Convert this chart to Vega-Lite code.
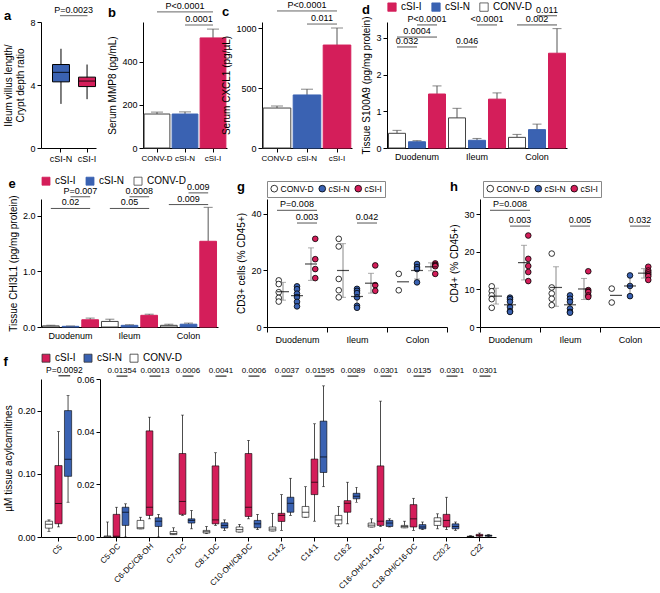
{
"$schema":"https://vega.github.io/schema/vega-lite/v6.json",
"padding":{"left":3,"top":0,"right":0,"bottom":0},
"background":"white",
"config":{
 "font":"Liberation Sans",
 "view":{"stroke":null},
 "axis":{"labelFontSize":9,"titleFontSize":10,"titleFontWeight":"normal","labelColor":"#000","titleColor":"#000","domainColor":"#000","tickColor":"#000","grid":false,"tickSize":4,"labelPadding":2,"titlePadding":4},
 "title":{"fontSize":13,"fontWeight":"bold","anchor":"start","frame":"bounds","offset":0,"color":"#000"},
 "legend":{"labelFontSize":9,"labelColor":"#000"},
 "text":{"fontSize":9}
},
"datasets":{
 "a":[{"grp":"cSI-N","lo":2.8,"q1":4.2,"med":4.8,"q3":5.3,"hi":6.3},{"grp":"cSI-I","lo":3.1,"q1":3.9,"med":4.25,"q3":4.5,"hi":5.3}],
 "a_br":[{"from":"cSI-N","to":"cSI-I","mid":"mid","y":8.4,"label":"P=0.0023"}],
 "b":[{"grp":"CONV-D","v":158,"err":167},{"grp":"cSI-N","v":158,"err":168},{"grp":"cSI-I","v":512,"err":553}],
 "b_br":[{"from":"CONV-D","to":"cSI-I","mid":"cSI-N","y":633,"label":"P<0.0001"},{"from":"cSI-N","to":"cSI-I","mid":"cSI-N|cSI-I","y":572,"label":"0.0001"}],
 "c":[{"grp":"CONV-D","v":333,"err":350},{"grp":"cSI-N","v":442,"err":490},{"grp":"cSI-I","v":858,"err":1000}],
 "c_br":[{"from":"CONV-D","to":"cSI-I","mid":"cSI-N","y":1142,"label":"P<0.0001"},{"from":"cSI-N","to":"cSI-I","mid":"cSI-N|cSI-I","y":1033,"label":"0.011"}],
 "d":[
  {"grp":"Duodenum","ser":"CONV-D","v":0.40,"err":0.48},
  {"grp":"Duodenum","ser":"cSI-N","v":0.17,"err":0.20},
  {"grp":"Duodenum","ser":"cSI-I","v":1.47,"err":1.69},
  {"grp":"Ileum","ser":"CONV-D","v":0.82,"err":1.08},
  {"grp":"Ileum","ser":"cSI-N","v":0.21,"err":0.26},
  {"grp":"Ileum","ser":"cSI-I","v":1.33,"err":1.50},
  {"grp":"Colon","ser":"CONV-D","v":0.29,"err":0.37},
  {"grp":"Colon","ser":"cSI-N","v":0.50,"err":0.65},
  {"grp":"Colon","ser":"cSI-I","v":2.58,"err":3.25}],
 "d_br":[
  {"cmp":"d1","grp":"Duodenum","from":"cSI-N","to":"cSI-I","mid":"cSI-N|cSI-I","y":3.35,"label":"P<0.0001"},
  {"cmp":"d2","grp":"Duodenum","from":"CONV-D","to":"cSI-I","mid":"cSI-N","y":3.02,"label":"0.0004"},
  {"cmp":"d3","grp":"Duodenum","from":"CONV-D","to":"cSI-N","mid":"CONV-D|cSI-N","y":2.75,"label":"0.032"},
  {"cmp":"d4","grp":"Ileum","from":"cSI-N","to":"cSI-I","mid":"cSI-N|cSI-I","y":3.35,"label":"<0.0001"},
  {"cmp":"d5","grp":"Ileum","from":"CONV-D","to":"cSI-N","mid":"CONV-D|cSI-N","y":2.75,"label":"0.046"},
  {"cmp":"d6","grp":"Colon","from":"cSI-N","to":"cSI-I","mid":"cSI-N|cSI-I","y":3.6,"label":"0.011"},
  {"cmp":"d7","grp":"Colon","from":"CONV-D","to":"cSI-I","mid":"cSI-N","y":3.35,"label":"0.002"}],
 "e":[
  {"grp":"Duodenum","ser":"CONV-D","v":0.02,"err":0.03},
  {"grp":"Duodenum","ser":"cSI-N","v":0.012,"err":0.018},
  {"grp":"Duodenum","ser":"cSI-I","v":0.13,"err":0.16},
  {"grp":"Ileum","ser":"CONV-D","v":0.10,"err":0.14},
  {"grp":"Ileum","ser":"cSI-N","v":0.03,"err":0.04},
  {"grp":"Ileum","ser":"cSI-I","v":0.21,"err":0.23},
  {"grp":"Colon","ser":"CONV-D","v":0.03,"err":0.05},
  {"grp":"Colon","ser":"cSI-N","v":0.05,"err":0.07},
  {"grp":"Colon","ser":"cSI-I","v":1.54,"err":2.15}],
 "e_br":[
  {"cmp":"e1","grp":"Duodenum","from":"cSI-N","to":"cSI-I","mid":"cSI-N|cSI-I","y":2.34,"label":"P=0.007"},
  {"cmp":"e2","grp":"Duodenum","from":"CONV-D","to":"cSI-I","mid":"cSI-N","y":2.13,"label":"0.02"},
  {"cmp":"e3","grp":"Ileum","from":"cSI-N","to":"cSI-I","mid":"cSI-N|cSI-I","y":2.34,"label":"0.0008"},
  {"cmp":"e4","grp":"Ileum","from":"CONV-D","to":"cSI-I","mid":"cSI-N","y":2.13,"label":"0.05"},
  {"cmp":"e5","grp":"Colon","from":"cSI-N","to":"cSI-I","mid":"cSI-N|cSI-I","y":2.41,"label":"0.009"},
  {"cmp":"e6","grp":"Colon","from":"CONV-D","to":"cSI-I","mid":"cSI-N","y":2.2,"label":"0.009"}],
 "g_pts":[
  {"grp":"Duodenum","ser":"CONV-D","v":16.5},{"grp":"Duodenum","ser":"CONV-D","v":15.2},{"grp":"Duodenum","ser":"CONV-D","v":12.3},{"grp":"Duodenum","ser":"CONV-D","v":10.3},{"grp":"Duodenum","ser":"CONV-D","v":9.0},
  {"grp":"Duodenum","ser":"cSI-N","v":14.4},{"grp":"Duodenum","ser":"cSI-N","v":13.4},{"grp":"Duodenum","ser":"cSI-N","v":11.8},{"grp":"Duodenum","ser":"cSI-N","v":10.6},{"grp":"Duodenum","ser":"cSI-N","v":8.9},{"grp":"Duodenum","ser":"cSI-N","v":7.3},
  {"grp":"Duodenum","ser":"cSI-I","v":31.2},{"grp":"Duodenum","ser":"cSI-I","v":24.0},{"grp":"Duodenum","ser":"cSI-I","v":20.5},{"grp":"Duodenum","ser":"cSI-I","v":17.3},
  {"grp":"Ileum","ser":"CONV-D","v":31.2},{"grp":"Ileum","ser":"CONV-D","v":28.5},{"grp":"Ileum","ser":"CONV-D","v":17.0},{"grp":"Ileum","ser":"CONV-D","v":13.0},{"grp":"Ileum","ser":"CONV-D","v":10.5},
  {"grp":"Ileum","ser":"cSI-N","v":13.5},{"grp":"Ileum","ser":"cSI-N","v":12.8},{"grp":"Ileum","ser":"cSI-N","v":12.0},{"grp":"Ileum","ser":"cSI-N","v":10.5},{"grp":"Ileum","ser":"cSI-N","v":7.5},{"grp":"Ileum","ser":"cSI-N","v":6.8},
  {"grp":"Ileum","ser":"cSI-I","v":21.8},{"grp":"Ileum","ser":"cSI-I","v":14.8},{"grp":"Ileum","ser":"cSI-I","v":12.8},
  {"grp":"Colon","ser":"CONV-D","v":18.8},{"grp":"Colon","ser":"CONV-D","v":13.0},
  {"grp":"Colon","ser":"cSI-N","v":22.3},{"grp":"Colon","ser":"cSI-N","v":21.2},{"grp":"Colon","ser":"cSI-N","v":20.5},{"grp":"Colon","ser":"cSI-N","v":15.8},
  {"grp":"Colon","ser":"cSI-I","v":22.5},{"grp":"Colon","ser":"cSI-I","v":22.0},{"grp":"Colon","ser":"cSI-I","v":21.7},{"grp":"Colon","ser":"cSI-I","v":21.5},{"grp":"Colon","ser":"cSI-I","v":18.8}],
 "g_sum":[
  {"grp":"Duodenum","ser":"CONV-D","mean":12.5,"lo":9.5,"hi":15.8},
  {"grp":"Duodenum","ser":"cSI-N","mean":11.1,"lo":8.4,"hi":13.8},
  {"grp":"Duodenum","ser":"cSI-I","mean":22.3,"lo":16.5,"hi":28.0},
  {"grp":"Ileum","ser":"CONV-D","mean":20.0,"lo":10.5,"hi":29.5},
  {"grp":"Ileum","ser":"cSI-N","mean":10.8,"lo":7.8,"hi":13.5},
  {"grp":"Ileum","ser":"cSI-I","mean":15.5,"lo":12.0,"hi":19.0},
  {"grp":"Colon","ser":"CONV-D","mean":16.0,"lo":null,"hi":null},
  {"grp":"Colon","ser":"cSI-N","mean":20.0,"lo":17.0,"hi":22.5},
  {"grp":"Colon","ser":"cSI-I","mean":21.3,"lo":19.9,"hi":22.7}],
 "g_br":[
  {"cmp":"g1","grp":"Duodenum","from":"CONV-D","to":"cSI-I","mid":"cSI-N","y":41.3,"label":"P=0.008"},
  {"cmp":"g2","grp":"Duodenum","from":"cSI-N","to":"cSI-I","mid":"cSI-N|cSI-I","y":36.8,"label":"0.003"},
  {"cmp":"g3","grp":"Ileum","from":"cSI-N","to":"cSI-I","mid":"cSI-N|cSI-I","y":36.8,"label":"0.042"}],
 "h_pts":[
  {"grp":"Duodenum","ser":"CONV-D","v":10.8},{"grp":"Duodenum","ser":"CONV-D","v":9.5},{"grp":"Duodenum","ser":"CONV-D","v":8.4},{"grp":"Duodenum","ser":"CONV-D","v":7.4},{"grp":"Duodenum","ser":"CONV-D","v":5.1},
  {"grp":"Duodenum","ser":"cSI-N","v":7.8},{"grp":"Duodenum","ser":"cSI-N","v":7.4},{"grp":"Duodenum","ser":"cSI-N","v":6.7},{"grp":"Duodenum","ser":"cSI-N","v":5.3},{"grp":"Duodenum","ser":"cSI-N","v":4.2},{"grp":"Duodenum","ser":"cSI-N","v":4.0},
  {"grp":"Duodenum","ser":"cSI-I","v":24.3},{"grp":"Duodenum","ser":"cSI-I","v":18.1},{"grp":"Duodenum","ser":"cSI-I","v":16.2},{"grp":"Duodenum","ser":"cSI-I","v":14.6},{"grp":"Duodenum","ser":"cSI-I","v":12.2},
  {"grp":"Ileum","ser":"CONV-D","v":19.5},{"grp":"Ileum","ser":"CONV-D","v":10.5},{"grp":"Ileum","ser":"CONV-D","v":8.9},{"grp":"Ileum","ser":"CONV-D","v":7.5},{"grp":"Ileum","ser":"CONV-D","v":5.8},
  {"grp":"Ileum","ser":"cSI-N","v":8.4},{"grp":"Ileum","ser":"cSI-N","v":7.5},{"grp":"Ileum","ser":"cSI-N","v":6.7},{"grp":"Ileum","ser":"cSI-N","v":4.9},{"grp":"Ileum","ser":"cSI-N","v":4.0},{"grp":"Ileum","ser":"cSI-N","v":3.8},
  {"grp":"Ileum","ser":"cSI-I","v":14.8},{"grp":"Ileum","ser":"cSI-I","v":9.8},{"grp":"Ileum","ser":"cSI-I","v":9.3},{"grp":"Ileum","ser":"cSI-I","v":8.4},{"grp":"Ileum","ser":"cSI-I","v":8.0},
  {"grp":"Colon","ser":"CONV-D","v":10.2},{"grp":"Colon","ser":"CONV-D","v":6.5},
  {"grp":"Colon","ser":"cSI-N","v":13.7},{"grp":"Colon","ser":"cSI-N","v":10.9},{"grp":"Colon","ser":"cSI-N","v":8.2},
  {"grp":"Colon","ser":"cSI-I","v":16.0},{"grp":"Colon","ser":"cSI-I","v":15.0},{"grp":"Colon","ser":"cSI-I","v":14.5},{"grp":"Colon","ser":"cSI-I","v":14.0},{"grp":"Colon","ser":"cSI-I","v":13.5},{"grp":"Colon","ser":"cSI-I","v":12.5}],
 "h_sum":[
  {"grp":"Duodenum","ser":"CONV-D","mean":8.2,"lo":6.1,"hi":10.3},
  {"grp":"Duodenum","ser":"cSI-N","mean":5.9,"lo":4.3,"hi":7.5},
  {"grp":"Duodenum","ser":"cSI-I","mean":17.1,"lo":12.5,"hi":21.7},
  {"grp":"Ileum","ser":"CONV-D","mean":10.5,"lo":5.5,"hi":16.0},
  {"grp":"Ileum","ser":"cSI-N","mean":5.9,"lo":4.1,"hi":7.7},
  {"grp":"Ileum","ser":"cSI-I","mean":10.1,"lo":7.3,"hi":12.9},
  {"grp":"Colon","ser":"CONV-D","mean":8.4,"lo":null,"hi":null},
  {"grp":"Colon","ser":"cSI-N","mean":10.9,"lo":8.2,"hi":13.7},
  {"grp":"Colon","ser":"cSI-I","mean":14.3,"lo":13.0,"hi":15.5}],
 "h_br":[
  {"cmp":"h1","grp":"Duodenum","from":"CONV-D","to":"cSI-I","mid":"cSI-N","y":31.0,"label":"P=0.008"},
  {"cmp":"h2","grp":"Duodenum","from":"cSI-N","to":"cSI-I","mid":"cSI-N|cSI-I","y":26.8,"label":"0.003"},
  {"cmp":"h3","grp":"Ileum","from":"cSI-N","to":"cSI-I","mid":"cSI-N|cSI-I","y":26.8,"label":"0.005"},
  {"cmp":"h4","grp":"Colon","from":"cSI-N","to":"cSI-I","mid":"cSI-N|cSI-I","y":26.8,"label":"0.032"}],
 "f1":[
  {"acyl":"C5","ser":"CONV-D","lo":0.009,"q1":0.014,"med":0.02,"q3":0.025,"hi":0.027},
  {"acyl":"C5","ser":"cSI-I","lo":0.016,"q1":0.021,"med":0.053,"q3":0.113,"hi":0.167},
  {"acyl":"C5","ser":"cSI-N","lo":0.055,"q1":0.096,"med":0.123,"q3":0.200,"hi":0.224}],
 "f1_br":[{"cmp":"f0","acyl":"C5","from":"cSI-I","to":"cSI-N","mid":"cSI-I|cSI-N","y":0.255,"label":"P=0.0092"}],
 "f2":[
  {"acyl":"C5-DC","ser":"CONV-D","lo":0,"q1":0,"med":0,"q3":0.0004,"hi":0.0057},
  {"acyl":"C5-DC","ser":"cSI-I","lo":0,"q1":0,"med":0.0003,"q3":0.0086,"hi":0.0113},
  {"acyl":"C5-DC","ser":"cSI-N","lo":0,"q1":0.0044,"med":0.0094,"q3":0.0113,"hi":0.0126},
  {"acyl":"C6-DC/C8-OH","ser":"CONV-D","lo":0.0031,"q1":0.0031,"med":0.0035,"q3":0.0063,"hi":0.0075},
  {"acyl":"C6-DC/C8-OH","ser":"cSI-I","lo":0.0069,"q1":0.0082,"med":0.0113,"q3":0.0403,"hi":0.0455},
  {"acyl":"C6-DC/C8-OH","ser":"cSI-N","lo":0,"q1":0.004,"med":0.006,"q3":0.0073,"hi":0.0086},
  {"acyl":"C7-DC","ser":"CONV-D","lo":0.0009,"q1":0.0009,"med":0.0013,"q3":0.0021,"hi":0.0035},
  {"acyl":"C7-DC","ser":"cSI-I","lo":0.0082,"q1":0.0086,"med":0.0135,"q3":0.0317,"hi":0.0463},
  {"acyl":"C7-DC","ser":"cSI-N","lo":0.0031,"q1":0.0053,"med":0.0063,"q3":0.0069,"hi":0.0101},
  {"acyl":"C8:1-DC","ser":"CONV-D","lo":0.0013,"q1":0.0015,"med":0.002,"q3":0.0025,"hi":0.004},
  {"acyl":"C8:1-DC","ser":"cSI-I","lo":0.0044,"q1":0.005,"med":0.0065,"q3":0.027,"hi":0.032},
  {"acyl":"C8:1-DC","ser":"cSI-N","lo":0.0025,"q1":0.0034,"med":0.0044,"q3":0.0054,"hi":0.0065},
  {"acyl":"C10-OH/C8-DC","ser":"CONV-D","lo":0.0019,"q1":0.0019,"med":0.0028,"q3":0.0038,"hi":0.0048},
  {"acyl":"C10-OH/C8-DC","ser":"cSI-I","lo":0.0069,"q1":0.0078,"med":0.0113,"q3":0.0317,"hi":0.0367},
  {"acyl":"C10-OH/C8-DC","ser":"cSI-N","lo":0.0028,"q1":0.0035,"med":0.005,"q3":0.0063,"hi":0.0086},
  {"acyl":"C14:2","ser":"CONV-D","lo":0.0023,"q1":0.0023,"med":0.003,"q3":0.0038,"hi":0.009},
  {"acyl":"C14:2","ser":"cSI-I","lo":0.0025,"q1":0.0059,"med":0.0082,"q3":0.009,"hi":0.0161},
  {"acyl":"C14:2","ser":"cSI-N","lo":0.0082,"q1":0.0094,"med":0.0128,"q3":0.0151,"hi":0.0223},
  {"acyl":"C14:1","ser":"CONV-D","lo":0.0075,"q1":0.0075,"med":0.0094,"q3":0.0116,"hi":0.0191},
  {"acyl":"C14:1","ser":"cSI-I","lo":0.006,"q1":0.0161,"med":0.0208,"q3":0.0296,"hi":0.043},
  {"acyl":"C14:1","ser":"cSI-N","lo":0.0191,"q1":0.0245,"med":0.0304,"q3":0.044,"hi":0.0574},
  {"acyl":"C16:2","ser":"CONV-D","lo":0.004,"q1":0.005,"med":0.0065,"q3":0.0082,"hi":0.0116},
  {"acyl":"C16:2","ser":"cSI-I","lo":0.005,"q1":0.0094,"med":0.0128,"q3":0.0138,"hi":0.0208},
  {"acyl":"C16:2","ser":"cSI-N","lo":0.0132,"q1":0.0145,"med":0.0155,"q3":0.0166,"hi":0.0189},
  {"acyl":"C16-OH/C14-DC","ser":"CONV-D","lo":0.0038,"q1":0.0038,"med":0.0045,"q3":0.0053,"hi":0.0069},
  {"acyl":"C16-OH/C14-DC","ser":"cSI-I","lo":0.004,"q1":0.0044,"med":0.006,"q3":0.027,"hi":0.0516},
  {"acyl":"C16-OH/C14-DC","ser":"cSI-N","lo":0.0038,"q1":0.004,"med":0.0053,"q3":0.0063,"hi":0.0069},
  {"acyl":"C18-OH/C16-DC","ser":"CONV-D","lo":0.0035,"q1":0.0035,"med":0.004,"q3":0.0044,"hi":0.006},
  {"acyl":"C18-OH/C16-DC","ser":"cSI-I","lo":0.0025,"q1":0.0038,"med":0.0069,"q3":0.0123,"hi":0.0147},
  {"acyl":"C18-OH/C16-DC","ser":"cSI-N","lo":0.0028,"q1":0.0031,"med":0.0038,"q3":0.0047,"hi":0.0057},
  {"acyl":"C20:2","ser":"CONV-D","lo":0.0031,"q1":0.0044,"med":0.006,"q3":0.0073,"hi":0.0088},
  {"acyl":"C20:2","ser":"cSI-I","lo":0.0028,"q1":0.0038,"med":0.0063,"q3":0.0086,"hi":0.0151},
  {"acyl":"C20:2","ser":"cSI-N","lo":0.0025,"q1":0.0031,"med":0.004,"q3":0.005,"hi":0.0057},
  {"acyl":"C22","ser":"CONV-D","lo":0,"q1":0.0001,"med":0.0002,"q3":0.0003,"hi":0.0005},
  {"acyl":"C22","ser":"cSI-I","lo":0,"q1":0.0003,"med":0.0006,"q3":0.001,"hi":0.0015},
  {"acyl":"C22","ser":"cSI-N","lo":0.0001,"q1":0.0003,"med":0.0005,"q3":0.0007,"hi":0.0009}],
 "f2_br":[
  {"cmp":"f1","acyl":"C5-DC","from":"cSI-I","to":"cSI-N","mid":"cSI-I|cSI-N","y":0.0611,"label":"0.01354"},
  {"cmp":"f2","acyl":"C6-DC/C8-OH","from":"cSI-I","to":"cSI-N","mid":"cSI-I|cSI-N","y":0.0611,"label":"0.00013"},
  {"cmp":"f3","acyl":"C7-DC","from":"cSI-I","to":"cSI-N","mid":"cSI-I|cSI-N","y":0.0611,"label":"0.0006"},
  {"cmp":"f4","acyl":"C8:1-DC","from":"cSI-I","to":"cSI-N","mid":"cSI-I|cSI-N","y":0.0611,"label":"0.0041"},
  {"cmp":"f5","acyl":"C10-OH/C8-DC","from":"cSI-I","to":"cSI-N","mid":"cSI-I|cSI-N","y":0.0611,"label":"0.0006"},
  {"cmp":"f6","acyl":"C14:2","from":"cSI-I","to":"cSI-N","mid":"cSI-I|cSI-N","y":0.0611,"label":"0.0037"},
  {"cmp":"f7","acyl":"C14:1","from":"cSI-I","to":"cSI-N","mid":"cSI-I|cSI-N","y":0.0611,"label":"0.01595"},
  {"cmp":"f8","acyl":"C16:2","from":"cSI-I","to":"cSI-N","mid":"cSI-I|cSI-N","y":0.0611,"label":"0.0089"},
  {"cmp":"f9","acyl":"C16-OH/C14-DC","from":"cSI-I","to":"cSI-N","mid":"cSI-I|cSI-N","y":0.0611,"label":"0.0301"},
  {"cmp":"f10","acyl":"C18-OH/C16-DC","from":"cSI-I","to":"cSI-N","mid":"cSI-I|cSI-N","y":0.0611,"label":"0.0135"},
  {"cmp":"f11","acyl":"C20:2","from":"cSI-I","to":"cSI-N","mid":"cSI-I|cSI-N","y":0.0611,"label":"0.0301"},
  {"cmp":"f12","acyl":"C22","from":"cSI-I","to":"cSI-N","mid":"cSI-I|cSI-N","y":0.0611,"label":"0.0301"}]
},
"bounds":"flush",
"spacing":177,
"resolve":{"scale":{"fill":"independent","stroke":"independent","xOffset":"independent","color":"independent"},"legend":{"fill":"independent","stroke":"independent","color":"independent"}},
"vconcat":[
 {"bounds":"flush","spacing":47,
  "resolve":{"scale":{"fill":"independent","stroke":"independent","xOffset":"independent","color":"independent"},"legend":{"fill":"independent","stroke":"independent","color":"independent"}},
  "hconcat":[
  {"width":55,"height":126,"title":{"text":"a","offset":-17},
   "resolve":{"scale":{"x":"independent"},"axis":{"x":"independent"}},
   "layer":[
    {"data":{"name":"a"},
     "encoding":{
      "x":{"field":"grp","type":"nominal","scale":{"domain":["cSI-N","cSI-I"],"paddingInner":0.35,"paddingOuter":0.23,"align":0.96},"axis":{"title":null,"labelAngle":0}},
      "y":{"field":"lo","type":"quantitative","scale":{"domain":[0,8],"nice":false},"axis":{"title":["Ileum villus length/","Crypt depth ratio"],"values":[0,2,4,6,8]}}},
     "layer":[
      {"mark":{"type":"rule","color":"#000"},"encoding":{"y2":{"field":"hi"}}},
      {"mark":{"type":"bar","stroke":"#000","strokeWidth":1},"encoding":{"y":{"field":"q1","type":"quantitative"},"y2":{"field":"q3"},"fill":{"field":"grp","type":"nominal","scale":{"domain":["cSI-N","cSI-I"],"range":["#3A62B2","#D41E5A"]},"legend":null}}},
      {"mark":{"type":"tick","color":"#000","thickness":1.2,"size":17},"encoding":{"y":{"field":"med","type":"quantitative"}}}
     ]},
    {"data":{"name":"a_br"},
     "encoding":{"x":{"field":"from","type":"nominal","scale":{"type":"point","domain":["cSI-N","mid","cSI-I"],"padding":1.115,"align":0.69},"axis":null},"y":{"field":"y","type":"quantitative"}},
     "layer":[
      {"mark":{"type":"rule","color":"#666"},"encoding":{"x2":{"field":"to"}}},
      {"mark":{"type":"text","baseline":"bottom","dy":-1},"encoding":{"x":{"field":"mid","type":"nominal"},"text":{"field":"label"}}}
     ]}
   ]},
  {"bounds":"flush","spacing":35,
   "resolve":{"scale":{"fill":"independent","stroke":"independent","xOffset":"independent","color":"independent"},"legend":{"fill":"independent","stroke":"independent","color":"independent"}},
   "hconcat":[
   {"width":84,"height":126,"title":{"text":"b","offset":-18},
    "resolve":{"scale":{"x":"independent"},"axis":{"x":"independent"}},
    "layer":[
     {"data":{"name":"b"},
      "encoding":{
       "x":{"field":"grp","type":"nominal","scale":{"domain":["CONV-D","cSI-N","cSI-I"],"paddingInner":0.08,"paddingOuter":0.04},"axis":{"title":null,"labelAngle":0,"labelFontSize":8}},
       "y":{"field":"v","type":"quantitative","scale":{"domain":[0,586],"nice":false},"axis":{"title":"Serum MMP8 (pg/mL)","values":[0,200,400]}}},
      "layer":[
       {"mark":{"type":"rule","color":"#555"},"encoding":{"y2":{"field":"err"}}},
       {"mark":{"type":"bar","strokeWidth":1},"encoding":{"fill":{"field":"grp","type":"nominal","scale":{"domain":["CONV-D","cSI-N","cSI-I"],"range":["#FFFFFF","#3A62B2","#D41E5A"]},"legend":null},"stroke":{"field":"grp","type":"nominal","scale":{"domain":["CONV-D","cSI-N","cSI-I"],"range":["#444444","#3A62B2","#D41E5A"]},"legend":null}}},
       {"mark":{"type":"tick","color":"#555","size":12,"thickness":1},"encoding":{"y":{"field":"err","type":"quantitative"}}}
      ]},
     {"data":{"name":"b_br"},
      "encoding":{"x":{"field":"from","type":"nominal","scale":{"type":"point","domain":["CONV-D","CONV-D|cSI-N","cSI-N","cSI-N|cSI-I","cSI-I"],"padding":1},"axis":null},"y":{"field":"y","type":"quantitative"}},
      "layer":[
       {"mark":{"type":"rule","color":"#666"},"encoding":{"x2":{"field":"to"}}},
       {"mark":{"type":"text","baseline":"bottom","dy":-1},"encoding":{"x":{"field":"mid","type":"nominal"},"text":{"field":"label"}}}
      ]}
    ]},
   {"width":90,"height":126,"title":{"text":"c","offset":-18},
    "resolve":{"scale":{"x":"independent"},"axis":{"x":"independent"}},
    "layer":[
     {"data":{"name":"c"},
      "encoding":{
       "x":{"field":"grp","type":"nominal","scale":{"domain":["CONV-D","cSI-N","cSI-I"],"paddingInner":0.08,"paddingOuter":0.04},"axis":{"title":null,"labelAngle":0,"labelFontSize":8}},
       "y":{"field":"v","type":"quantitative","scale":{"domain":[0,1050],"nice":false},"axis":{"title":"Serum CXCL1 (pg/µL)","values":[0,250,500,750,1000],"format":"d"}}},
      "layer":[
       {"mark":{"type":"rule","color":"#555"},"encoding":{"y2":{"field":"err"}}},
       {"mark":{"type":"bar","strokeWidth":1},"encoding":{"fill":{"field":"grp","type":"nominal","scale":{"domain":["CONV-D","cSI-N","cSI-I"],"range":["#FFFFFF","#3A62B2","#D41E5A"]},"legend":null},"stroke":{"field":"grp","type":"nominal","scale":{"domain":["CONV-D","cSI-N","cSI-I"],"range":["#444444","#3A62B2","#D41E5A"]},"legend":null}}},
       {"mark":{"type":"tick","color":"#555","size":12,"thickness":1},"encoding":{"y":{"field":"err","type":"quantitative"}}}
      ]},
     {"data":{"name":"c_br"},
      "encoding":{"x":{"field":"from","type":"nominal","scale":{"type":"point","domain":["CONV-D","CONV-D|cSI-N","cSI-N","cSI-N|cSI-I","cSI-I"],"padding":1},"axis":null},"y":{"field":"y","type":"quantitative"}},
      "layer":[
       {"mark":{"type":"rule","color":"#666"},"encoding":{"x2":{"field":"to"}}},
       {"mark":{"type":"text","baseline":"bottom","dy":-1},"encoding":{"x":{"field":"mid","type":"nominal"},"text":{"field":"label"}}}
      ]}
    ]},
   {"width":180,"height":126,"title":{"text":"d","offset":-15},
    "resolve":{"scale":{"xOffset":"independent"}},
    "layer":[
     {"data":{"name":"d"},
      "encoding":{
       "x":{"field":"grp","type":"nominal","scale":{"domain":["Duodenum","Ileum","Colon"],"paddingInner":0,"paddingOuter":0},"axis":{"title":null,"labelAngle":0,"ticks":false,"labelPadding":4}},
       "xOffset":{"field":"ser","type":"nominal","scale":{"domain":["CONV-D","cSI-N","cSI-I"],"paddingInner":0.15,"paddingOuter":0.075}},
       "y":{"field":"v","type":"quantitative","scale":{"domain":[0,3.43],"nice":false},"axis":{"title":"Tissue S100A9 (pg/mg protein)","values":[0,1,2,3]}}},
      "layer":[
       {"mark":{"type":"rule","color":"#555"},"encoding":{"y2":{"field":"err"}}},
       {"mark":{"type":"bar","strokeWidth":1},"encoding":{"fill":{"field":"ser","type":"nominal","scale":{"domain":["cSI-I","cSI-N","CONV-D"],"range":["#D41E5A","#3A62B2","#FFFFFF"]},"legend":{"orient":"none","legendX":0,"legendY":-20,"direction":"horizontal","title":null,"symbolType":"square","symbolSize":70,"symbolStrokeColor":"#333","symbolStrokeWidth":0.8,"labelFontSize":10,"columnPadding":8}},"stroke":{"field":"ser","type":"nominal","scale":{"domain":["cSI-I","cSI-N","CONV-D"],"range":["#D41E5A","#3A62B2","#444444"]},"legend":null}}},
       {"mark":{"type":"tick","color":"#555","size":9,"thickness":1},"encoding":{"y":{"field":"err","type":"quantitative"}}}
      ]},
     {"data":{"name":"d_br"},
      "encoding":{"x":{"field":"grp","type":"nominal"},"y":{"field":"y","type":"quantitative"}},
      "layer":[
       {"transform":[{"fold":["from","to"],"as":["end","pos"]}],"mark":{"type":"line","color":"#555","strokeWidth":1},"encoding":{"xOffset":{"field":"pos","type":"nominal","scale":{"type":"point","domain":["CONV-D","CONV-D|cSI-N","cSI-N","cSI-N|cSI-I","cSI-I"],"padding":1}},"detail":{"field":"cmp"}}},
       {"mark":{"type":"text","baseline":"bottom","dy":-1},"encoding":{"xOffset":{"field":"mid","type":"nominal"},"text":{"field":"label"}}}
      ]}
    ]}
  ]}
 ]},
 {"bounds":"flush","spacing":180,
  "resolve":{"scale":{"fill":"independent","stroke":"independent","xOffset":"independent","color":"independent"},"legend":{"fill":"independent","stroke":"independent","color":"independent"}},
  "vconcat":[
  {"bounds":"flush","spacing":49,
   "resolve":{"scale":{"fill":"independent","stroke":"independent","xOffset":"independent","color":"independent"},"legend":{"fill":"independent","stroke":"independent","color":"independent"}},
   "hconcat":[
   {"width":177,"height":128,"title":{"text":"e","offset":-15},
    "resolve":{"scale":{"xOffset":"independent"}},
    "layer":[
     {"data":{"name":"e"},
      "encoding":{
       "x":{"field":"grp","type":"nominal","scale":{"domain":["Duodenum","Ileum","Colon"],"paddingInner":0,"paddingOuter":0},"axis":{"title":null,"labelAngle":0,"ticks":false,"labelPadding":4}},
       "xOffset":{"field":"ser","type":"nominal","scale":{"domain":["CONV-D","cSI-N","cSI-I"],"paddingInner":0.15,"paddingOuter":0.075}},
       "y":{"field":"v","type":"quantitative","scale":{"domain":[0,2.3],"nice":false},"axis":{"title":"Tissue CHI3L1 (pg/mg protein)","values":[0,0.5,1,1.5,2],"format":".1f"}}},
      "layer":[
       {"mark":{"type":"rule","color":"#555"},"encoding":{"y2":{"field":"err"}}},
       {"mark":{"type":"bar","strokeWidth":1},"encoding":{"fill":{"field":"ser","type":"nominal","scale":{"domain":["cSI-I","cSI-N","CONV-D"],"range":["#D41E5A","#3A62B2","#FFFFFF"]},"legend":{"orient":"none","legendX":0,"legendY":-23,"direction":"horizontal","title":null,"symbolType":"square","symbolSize":64,"symbolStrokeColor":"#333","symbolStrokeWidth":0.8,"labelFontSize":10,"columnPadding":8}},"stroke":{"field":"ser","type":"nominal","scale":{"domain":["cSI-I","cSI-N","CONV-D"],"range":["#D41E5A","#3A62B2","#444444"]},"legend":null}}},
       {"mark":{"type":"tick","color":"#555","size":9,"thickness":1},"encoding":{"y":{"field":"err","type":"quantitative"}}}
      ]},
     {"data":{"name":"e_br"},
      "encoding":{"x":{"field":"grp","type":"nominal"},"y":{"field":"y","type":"quantitative"}},
      "layer":[
       {"transform":[{"fold":["from","to"],"as":["end","pos"]}],"mark":{"type":"line","color":"#555","strokeWidth":1},"encoding":{"xOffset":{"field":"pos","type":"nominal","scale":{"type":"point","domain":["CONV-D","CONV-D|cSI-N","cSI-N","cSI-N|cSI-I","cSI-I"],"padding":1}},"detail":{"field":"cmp"}}},
       {"mark":{"type":"text","baseline":"bottom","dy":-1},"encoding":{"xOffset":{"field":"mid","type":"nominal"},"text":{"field":"label"}}}
      ]}
    ]},
   {"bounds":"flush","spacing":33,
    "resolve":{"scale":{"fill":"independent","stroke":"independent","xOffset":"independent","color":"independent"},"legend":{"fill":"independent","stroke":"independent","color":"independent"}},
    "hconcat":[
    {"width":180,"height":128,"title":{"text":"g","offset":-13},
     "resolve":{"scale":{"xOffset":"independent"}},
     "encoding":{"x":{"field":"grp","type":"nominal","scale":{"domain":["Duodenum","Ileum","Colon"],"paddingInner":0,"paddingOuter":0},"axis":{"title":null,"labelAngle":0,"tickBand":"extent","tickSize":5,"labelPadding":3}}},
     "layer":[
      {"data":{"name":"g_sum"},
       "encoding":{"xOffset":{"field":"ser","type":"nominal","scale":{"domain":["CONV-D","cSI-N","cSI-I"],"paddingInner":0,"paddingOuter":0.643}}},
       "layer":[
        {"mark":{"type":"rule","color":"#888"},"encoding":{"y":{"field":"lo","type":"quantitative","scale":{"domain":[0,45.3],"nice":false},"axis":{"title":"CD3+ cells (% CD45+)","values":[0,10,20,30,40]}},"y2":{"field":"hi"}}},
        {"mark":{"type":"tick","color":"#888","size":6,"thickness":1},"encoding":{"y":{"field":"lo","type":"quantitative"}}},
        {"mark":{"type":"tick","color":"#888","size":6,"thickness":1},"encoding":{"y":{"field":"hi","type":"quantitative"}}}
       ]},
      {"data":{"name":"g_pts"},"mark":{"type":"point","filled":true,"size":32,"stroke":"#000","strokeWidth":0.8,"opacity":1},
       "encoding":{"xOffset":{"field":"ser","type":"nominal","scale":{"domain":["CONV-D","cSI-N","cSI-I"],"paddingInner":0,"paddingOuter":0.643}},"y":{"field":"v","type":"quantitative"},
        "fill":{"field":"ser","type":"nominal","scale":{"domain":["CONV-D","cSI-N","cSI-I"],"range":["#FFFFFF","#3A62B2","#D41E5A"]},"legend":{"orient":"none","legendX":0,"legendY":-18,"direction":"horizontal","title":null,"symbolType":"circle","symbolSize":45,"symbolStrokeColor":"#000","symbolStrokeWidth":0.8,"labelFontSize":8.5,"labelOffset":2,"columnPadding":3,"strokeColor":"#888","padding":3}}}},
      {"data":{"name":"g_sum"},"mark":{"type":"tick","color":"#000","size":12,"thickness":1.2},
       "encoding":{"xOffset":{"field":"ser","type":"nominal","scale":{"domain":["CONV-D","cSI-N","cSI-I"],"paddingInner":0,"paddingOuter":0.643}},"y":{"field":"mean","type":"quantitative"}}},
      {"data":{"name":"g_br"},
       "encoding":{"y":{"field":"y","type":"quantitative"}},
       "layer":[
        {"transform":[{"fold":["from","to"],"as":["end","pos"]}],"mark":{"type":"line","color":"#555","strokeWidth":1},"encoding":{"xOffset":{"field":"pos","type":"nominal","scale":{"type":"point","domain":["CONV-D","CONV-D|cSI-N","cSI-N","cSI-N|cSI-I","cSI-I"],"padding":2.286}},"detail":{"field":"cmp"}}},
        {"mark":{"type":"text","baseline":"bottom","dy":-1},"encoding":{"xOffset":{"field":"mid","type":"nominal"},"text":{"field":"label"}}}
       ]}
     ]},
    {"width":180,"height":128,"title":{"text":"h","offset":-13},
     "resolve":{"scale":{"xOffset":"independent"}},
     "encoding":{"x":{"field":"grp","type":"nominal","scale":{"domain":["Duodenum","Ileum","Colon"],"paddingInner":0,"paddingOuter":0},"axis":{"title":null,"labelAngle":0,"tickBand":"extent","tickSize":5,"labelPadding":3}}},
     "layer":[
      {"data":{"name":"h_sum"},
       "encoding":{"xOffset":{"field":"ser","type":"nominal","scale":{"domain":["CONV-D","cSI-N","cSI-I"],"paddingInner":0,"paddingOuter":0.643}}},
       "layer":[
        {"mark":{"type":"rule","color":"#888"},"encoding":{"y":{"field":"lo","type":"quantitative","scale":{"domain":[0,34],"nice":false},"axis":{"title":"CD4+ (% CD45+)","values":[0,10,20,30]}},"y2":{"field":"hi"}}},
        {"mark":{"type":"tick","color":"#888","size":6,"thickness":1},"encoding":{"y":{"field":"lo","type":"quantitative"}}},
        {"mark":{"type":"tick","color":"#888","size":6,"thickness":1},"encoding":{"y":{"field":"hi","type":"quantitative"}}}
       ]},
      {"data":{"name":"h_pts"},"mark":{"type":"point","filled":true,"size":32,"stroke":"#000","strokeWidth":0.8,"opacity":1},
       "encoding":{"xOffset":{"field":"ser","type":"nominal","scale":{"domain":["CONV-D","cSI-N","cSI-I"],"paddingInner":0,"paddingOuter":0.643}},"y":{"field":"v","type":"quantitative"},
        "fill":{"field":"ser","type":"nominal","scale":{"domain":["CONV-D","cSI-N","cSI-I"],"range":["#FFFFFF","#3A62B2","#D41E5A"]},"legend":{"orient":"none","legendX":3,"legendY":-18,"direction":"horizontal","title":null,"symbolType":"circle","symbolSize":45,"symbolStrokeColor":"#000","symbolStrokeWidth":0.8,"labelFontSize":8.5,"labelOffset":2,"columnPadding":3,"strokeColor":"#888","padding":3}}}},
      {"data":{"name":"h_sum"},"mark":{"type":"tick","color":"#000","size":12,"thickness":1.2},
       "encoding":{"xOffset":{"field":"ser","type":"nominal","scale":{"domain":["CONV-D","cSI-N","cSI-I"],"paddingInner":0,"paddingOuter":0.643}},"y":{"field":"mean","type":"quantitative"}}},
      {"data":{"name":"h_br"},
       "encoding":{"y":{"field":"y","type":"quantitative"}},
       "layer":[
        {"transform":[{"fold":["from","to"],"as":["end","pos"]}],"mark":{"type":"line","color":"#555","strokeWidth":1},"encoding":{"xOffset":{"field":"pos","type":"nominal","scale":{"type":"point","domain":["CONV-D","CONV-D|cSI-N","cSI-N","cSI-N|cSI-I","cSI-I"],"padding":2.286}},"detail":{"field":"cmp"}}},
        {"mark":{"type":"text","baseline":"bottom","dy":-1},"encoding":{"xOffset":{"field":"mid","type":"nominal"},"text":{"field":"label"}}}
       ]}
     ]}
   ]}
  ]},
  {"bounds":"flush","spacing":24,
   "resolve":{"scale":{"fill":"independent","stroke":"independent","xOffset":"independent","color":"independent"},"legend":{"fill":"independent","stroke":"independent","color":"independent"}},
   "hconcat":[
   {"width":35,"height":158,"title":{"text":"f","offset":-16},
    "resolve":{"scale":{"xOffset":"independent"}},
    "encoding":{"x":{"field":"acyl","type":"nominal","scale":{"paddingInner":0,"paddingOuter":0},"axis":{"title":null,"labelAngle":-45,"labelFontSize":8}}},
    "layer":[
     {"data":{"name":"f1"},
      "encoding":{"xOffset":{"field":"ser","type":"nominal","scale":{"domain":["CONV-D","cSI-I","cSI-N"],"paddingInner":0.25,"paddingOuter":0.458}}},
      "layer":[
       {"mark":{"type":"rule","color":"#000","strokeWidth":0.7},"encoding":{"y":{"field":"lo","type":"quantitative","scale":{"domain":[0,0.25],"nice":false},"axis":{"title":"µM tissue acylcarnitines","values":[0,0.05,0.1,0.15,0.2,0.25],"format":".2f"}},"y2":{"field":"hi"}}},
       {"mark":{"type":"tick","color":"#000","size":3,"thickness":0.7},"encoding":{"y":{"field":"hi","type":"quantitative"}}},
       {"mark":{"type":"tick","color":"#000","size":3,"thickness":0.7},"encoding":{"y":{"field":"lo","type":"quantitative"}}},
       {"mark":{"type":"bar","stroke":"#000","strokeWidth":0.6},"encoding":{"y":{"field":"q1","type":"quantitative"},"y2":{"field":"q3"},"fill":{"field":"ser","type":"nominal","scale":{"domain":["cSI-I","cSI-N","CONV-D"],"range":["#D41E5A","#3A62B2","#FFFFFF"]},"legend":{"orient":"none","legendX":0,"legendY":-26,"direction":"horizontal","title":null,"symbolType":"square","symbolSize":64,"symbolStrokeColor":"#333","symbolStrokeWidth":0.8,"labelFontSize":10,"columnPadding":6}}}},
       {"mark":{"type":"tick","color":"#000","size":6.75,"thickness":1},"encoding":{"y":{"field":"med","type":"quantitative"}}}
      ]},
     {"data":{"name":"f1_br"},
      "encoding":{"y":{"field":"y","type":"quantitative"}},
      "layer":[
       {"transform":[{"fold":["from","to"],"as":["end","pos"]}],"mark":{"type":"line","color":"#000","strokeWidth":1},"encoding":{"xOffset":{"field":"pos","type":"nominal","scale":{"type":"point","domain":["CONV-D","CONV-D|cSI-I","cSI-I","cSI-I|cSI-N","cSI-N"],"padding":1.667}},"detail":{"field":"cmp"}}},
       {"mark":{"type":"text","baseline":"bottom","dy":-1,"fontSize":8.5},"encoding":{"xOffset":{"field":"mid","type":"nominal"},"text":{"field":"label"}}}
      ]}
    ]},
   {"width":396,"height":158,
    "resolve":{"scale":{"xOffset":"independent"}},
    "encoding":{"x":{"field":"acyl","type":"nominal","sort":null,"scale":{"domain":["C5-DC","C6-DC/C8-OH","C7-DC","C8:1-DC","C10-OH/C8-DC","C14:2","C14:1","C16:2","C16-OH/C14-DC","C18-OH/C16-DC","C20:2","C22"],"paddingInner":0,"paddingOuter":0},"axis":{"title":null,"labelAngle":-45,"labelFontSize":8,"labelPadding":1}}},
    "layer":[
     {"data":{"name":"f2"},
      "encoding":{"xOffset":{"field":"ser","type":"nominal","scale":{"domain":["CONV-D","cSI-I","cSI-N"],"paddingInner":0.25,"paddingOuter":0.458}}},
      "layer":[
       {"mark":{"type":"rule","color":"#000","strokeWidth":0.7},"encoding":{"y":{"field":"lo","type":"quantitative","scale":{"domain":[0,0.06],"nice":false},"axis":{"title":null,"values":[0,0.02,0.04,0.06],"format":".2f"}},"y2":{"field":"hi"}}},
       {"mark":{"type":"tick","color":"#000","size":3,"thickness":0.7},"encoding":{"y":{"field":"hi","type":"quantitative"}}},
       {"mark":{"type":"tick","color":"#000","size":3,"thickness":0.7},"encoding":{"y":{"field":"lo","type":"quantitative"}}},
       {"mark":{"type":"bar","stroke":"#000","strokeWidth":0.6},"encoding":{"y":{"field":"q1","type":"quantitative"},"y2":{"field":"q3"},"fill":{"field":"ser","type":"nominal","scale":{"domain":["cSI-I","cSI-N","CONV-D"],"range":["#D41E5A","#3A62B2","#FFFFFF"]},"legend":null}}},
       {"mark":{"type":"tick","color":"#000","size":6.75,"thickness":1},"encoding":{"y":{"field":"med","type":"quantitative"}}}
      ]},
     {"data":{"name":"f2_br"},
      "encoding":{"y":{"field":"y","type":"quantitative"}},
      "layer":[
       {"transform":[{"fold":["from","to"],"as":["end","pos"]}],"mark":{"type":"line","color":"#000","strokeWidth":1},"encoding":{"xOffset":{"field":"pos","type":"nominal","scale":{"type":"point","domain":["CONV-D","CONV-D|cSI-I","cSI-I","cSI-I|cSI-N","cSI-N"],"padding":1.667}},"detail":{"field":"cmp"}}},
       {"mark":{"type":"text","baseline":"bottom","dy":-1,"fontSize":8},"encoding":{"xOffset":{"field":"mid","type":"nominal"},"text":{"field":"label"}}}
      ]}
    ]}
  ]}
 ]}
]
}
